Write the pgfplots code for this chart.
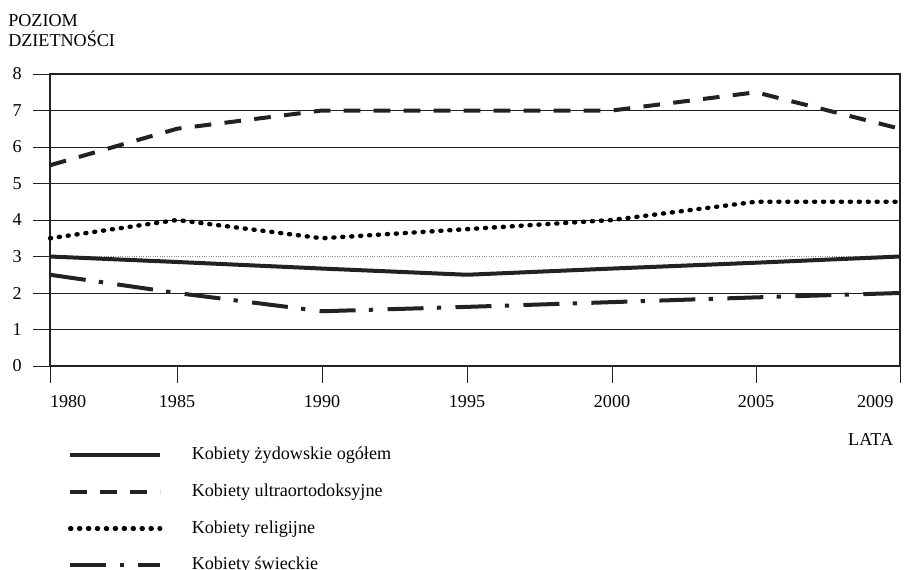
\documentclass[border=0pt]{standalone}
\usepackage{fontspec}
\setmainfont{Liberation Serif}
\usepackage{pgfplots}
\pgfplotsset{compat=1.18}
\usepackage{pgfplotstable}

\pgfplotstableread{
pos   year total ultra relig secular
0     1980 3.00  5.5   3.50  2.50
127   1985 2.85  6.5   4.00  2.00
272   1990 2.67  7.0   3.50  1.50
417   1995 2.50  7.0   3.75  1.62
562   2000 2.67  7.0   4.00  1.75
706   2005 2.83  7.5   4.50  1.88
850   2009 3.00  6.5   4.50  2.00
}\fert

\definecolor{ink}{HTML}{222222}

\begin{document}
\fontsize{13.6pt}{15pt}\selectfont
\begin{tikzpicture}
\path[use as bounding box] (0,0) rectangle (678.75pt,-427.5pt);
\begin{axis}[
  at={(37.5pt,-274.5pt)}, anchor=south west,
  scale only axis, width=637.5pt, height=219pt,
  xmin=0, xmax=850, ymin=0, ymax=8,
  xtick={0,127,272,417,562,706,850},
  xticklabels={\makebox[0pt][l]{1980},1985,1990,1995,2000,2005,\makebox[0pt][r]{2009\hspace{5pt}}},
  ytick={0,1,2,4,5,6,7,8},
  extra y ticks={3},
  extra y tick style={grid style={densely dotted, black!45, line width=0.5pt}},
  ymajorgrids,
  grid style={ink, line width=0.75pt, solid},
  tick align=outside,
  xtick pos=bottom, ytick pos=left,
  major tick length=12.5pt,
  tick style={ink, line width=0.75pt},
  axis line style={ink, line width=0.85pt},
  /pgf/number format/assume math mode=true,
  tick label style={font=\fontsize{13.6pt}{15pt}\selectfont},
  xticklabel style={yshift=-5pt},
  yticklabel style={xshift=-4pt},
  legend cell align=left,
  legend style={at={(axis description cs:0.0212,-0.276)}, anchor=north west,
    draw=none, fill=none, inner sep=0pt, outer sep=0pt,
    row sep=14.5pt, column sep=22pt,
    font=\fontsize{13.6pt}{15pt}\selectfont,
    nodes={inner sep=0pt, text height=10pt, text depth=3pt}},
  legend image code/.code={\draw[#1] (0pt,0pt) -- (67.5pt,0pt);},
  clip=false,
]
\addplot[ink, line width=3pt, solid] table[x=pos, y=total] {\fert};
\addlegendentry{Kobiety żydowskie ogółem}
\addplot[ink, line width=3pt, dash pattern=on 12.5pt off 10pt] table[x=pos, y=ultra] {\fert};
\addlegendentry{Kobiety ultraortodoksyjne}
\addplot[black, line width=3.3pt, line cap=round, dash pattern=on 0.8pt off 5.9pt] table[x=pos, y=relig] {\fert};
\addlegendentry{Kobiety religijne}
\addplot[ink, line width=3pt, dash pattern=on 27pt off 10pt on 3.2pt off 10.8pt] table[x=pos, y=secular] {\fert};
\addlegendentry{Kobiety świeckie}
\end{axis}
\node[anchor=base west, align=left, inner sep=0pt] at (6pt,-20.25pt) {POZIOM};
\node[anchor=base west, align=left, inner sep=0pt] at (6pt,-35.25pt) {DZIETNOŚCI};
\node[anchor=base east, inner sep=0pt] at (670pt,-333.75pt) {LATA};
\end{tikzpicture}
\end{document}
